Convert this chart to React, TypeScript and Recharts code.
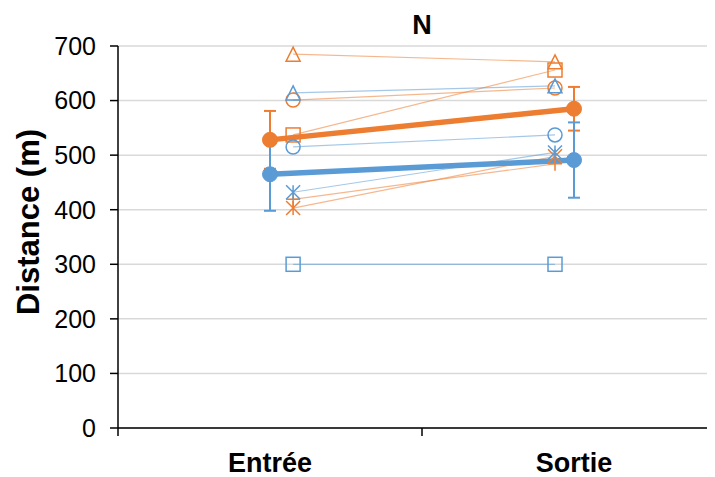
import React from 'react';
import { ComposedChart, Line, XAxis, YAxis, CartesianGrid, ErrorBar } from 'recharts';

// ---- data ----
const CATEGORIES = ['Entrée', 'Sortie'];
const CATEGORY_X = [0.5, 1.5];
const INDIVIDUAL_X = [0.576, 1.4375];
const Y_TICKS = [0, 100, 200, 300, 400, 500, 600, 700];
const TITLE = 'N';
const Y_LABEL = 'Distance (m)';

const ORANGE_TRIANGLE = [685, 671];
const ORANGE_CIRCLE = [601, 623];
const ORANGE_SQUARE = [537, 656];
const ORANGE_PLUS = [419, 484];
const ORANGE_STAR = [403, 498];

const BLUE_TRIANGLE = [614, 627];
const BLUE_CIRCLE = [515, 537];
const BLUE_SQUARE = [300, 300];
const BLUE_STAR = [432, 505];

const ORANGE_MEAN = [528, 585];
const ORANGE_SD = [53, 40];
const BLUE_MEAN = [465, 491];
const BLUE_SD = [67, 69];

// ---- styles ----
const ORANGE = '#ED7D31';
const BLUE = '#5B9BD5';
const FONT = '"Liberation Sans", Arial, sans-serif';

type Shape = 'triangle' | 'circle' | 'square' | 'plus' | 'star';

const individuals: { key: string; values: number[]; color: string; shape: Shape }[] = [
  { key: 'o-tri', values: ORANGE_TRIANGLE, color: ORANGE, shape: 'triangle' },
  { key: 'o-cir', values: ORANGE_CIRCLE, color: ORANGE, shape: 'circle' },
  { key: 'o-sq', values: ORANGE_SQUARE, color: ORANGE, shape: 'square' },
  { key: 'o-plus', values: ORANGE_PLUS, color: ORANGE, shape: 'plus' },
  { key: 'o-star', values: ORANGE_STAR, color: ORANGE, shape: 'star' },
  { key: 'b-tri', values: BLUE_TRIANGLE, color: BLUE, shape: 'triangle' },
  { key: 'b-cir', values: BLUE_CIRCLE, color: BLUE, shape: 'circle' },
  { key: 'b-sq', values: BLUE_SQUARE, color: BLUE, shape: 'square' },
  { key: 'b-star', values: BLUE_STAR, color: BLUE, shape: 'star' },
];

const toPoints = (values: number[], xs: number[], errs?: number[]) =>
  values.map((v, i) => ({ x: xs[i], y: v, err: errs ? errs[i] : 0 }));

function makeMarker(shape: Shape, color: string) {
  return (props: any) => {
    const { cx, cy, index } = props;
    const s = 7;
    const common = { fill: 'none', stroke: color, strokeWidth: 1.5 };
    let el: React.ReactNode = null;
    if (shape === 'triangle') {
      el = <path d={`M${cx},${cy - s} L${cx + s},${cy + s} L${cx - s},${cy + s} Z`} {...common} />;
    } else if (shape === 'circle') {
      el = <circle cx={cx} cy={cy} r={s} {...common} />;
    } else if (shape === 'square') {
      el = <rect x={cx - s} y={cy - s} width={2 * s} height={2 * s} {...common} />;
    } else if (shape === 'plus') {
      el = <path d={`M${cx - s},${cy} H${cx + s} M${cx},${cy - s} V${cy + s}`} {...common} />;
    } else {
      el = (
        <path
          d={`M${cx - s},${cy - s} L${cx + s},${cy + s} M${cx + s},${cy - s} L${cx - s},${cy + s} M${cx},${cy - s} V${cy + s}`}
          {...common}
        />
      );
    }
    return <g key={`m-${index}`}>{el}</g>;
  };
}

const XTick = (props: any) => {
  const { x, y, payload } = props;
  const v = payload.value;
  if (Number.isInteger(v)) {
    return <line x1={x} y1={y} x2={x} y2={y + 8} stroke="#000" strokeWidth={1.5} />;
  }
  const idx = CATEGORY_X.indexOf(v);
  return (
    <text x={x} y={y + 44} textAnchor="middle" fontFamily={FONT} fontWeight="bold" fontSize={27} fill="#000">
      {CATEGORIES[idx]}
    </text>
  );
};

export default function App() {
  return (
    <div style={{ position: 'relative', width: 707, height: 469, overflow: 'hidden' }}>
      <ComposedChart width={720} height={469} margin={{ top: 38, right: 2, bottom: 0, left: 0 }}>
        <CartesianGrid vertical={false} stroke="#D9D9D9" strokeWidth={1.5} />
        <XAxis
          type="number"
          dataKey="x"
          domain={[0, 2]}
          ticks={[0, 0.5, 1, 1.5, 2]}
          interval={0}
          allowDataOverflow
          axisLine={{ stroke: '#000', strokeWidth: 1.5 }}
          tickLine={false}
          tickSize={0}
          tickMargin={0}
          tick={<XTick />}
          height={49}
        />
        <YAxis
          type="number"
          domain={[0, 700]}
          ticks={Y_TICKS}
          interval={0}
          width={110}
          axisLine={{ stroke: '#000', strokeWidth: 1.5 }}
          tickLine={{ stroke: '#000', strokeWidth: 1.5 }}
          tickSize={8}
          tickMargin={14}
          tick={{ fill: '#000', fontSize: 25, fontFamily: FONT }}
        />
        {individuals.map((s) => (
          <Line
            key={s.key}
            data={toPoints(s.values, INDIVIDUAL_X)}
            dataKey="y"
            stroke={s.color}
            strokeOpacity={0.55}
            strokeWidth={1.2}
            dot={makeMarker(s.shape, s.color)}
            activeDot={false}
            isAnimationActive={false}
          />
        ))}
        <Line
          data={toPoints(ORANGE_MEAN, CATEGORY_X, ORANGE_SD)}
          dataKey="y"
          stroke={ORANGE}
          strokeWidth={5.5}
          dot={{ r: 7.5, fill: ORANGE, stroke: ORANGE, strokeWidth: 1 }}
          activeDot={false}
          isAnimationActive={false}
        >
          <ErrorBar dataKey="err" direction="y" width={6} stroke={ORANGE} strokeWidth={2} isAnimationActive={false} />
        </Line>
        <Line
          data={toPoints(BLUE_MEAN, CATEGORY_X, BLUE_SD)}
          dataKey="y"
          stroke={BLUE}
          strokeWidth={5.5}
          dot={{ r: 7.5, fill: BLUE, stroke: BLUE, strokeWidth: 1 }}
          activeDot={false}
          isAnimationActive={false}
        >
          <ErrorBar dataKey="err" direction="y" width={6} stroke={BLUE} strokeWidth={2} isAnimationActive={false} />
        </Line>
      </ComposedChart>
      <svg
        width={707}
        height={469}
        style={{ position: 'absolute', left: 0, top: 0, pointerEvents: 'none' }}
      >
        <text x={414} y={26} textAnchor="middle" fontFamily={FONT} fontWeight="bold" fontSize={27} fill="#000">
          {TITLE}
        </text>
        <text
          x={0}
          y={0}
          transform="translate(20,214) rotate(-90)"
          textAnchor="middle"
          dominantBaseline="central"
          fontFamily={FONT}
          fontWeight="bold"
          fontSize={31}
          fill="#000"
        >
          {Y_LABEL}
        </text>
      </svg>
    </div>
  );
}
